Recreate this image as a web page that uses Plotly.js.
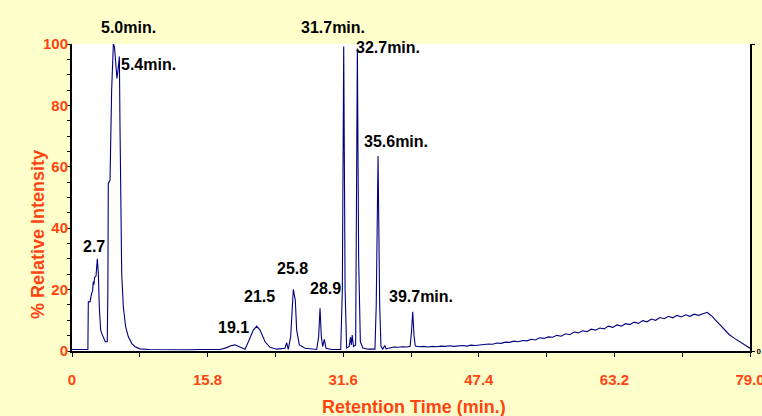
<!DOCTYPE html>
<html>
<head>
<meta charset="utf-8">
<script src="https://cdn.plot.ly/plotly-3.0.1.min.js"></script>
<style>html,body{margin:0;padding:0;background:#FFFFCC;}#chart{width:762px;height:416px;}</style>
</head>
<body>
<div id="chart"></div>
<script>
// Retention time (min) and % relative intensity
const retentionTime = [
  0, 1.0, 1.85, 1.90, 2.10, 2.29, 2.40, 2.48, 2.55, 2.64, 2.80, 2.95, 3.07, 3.18, 3.34, 3.50, 3.65, 3.88, 4.11, 4.18,
  4.23, 4.43, 4.62, 4.82, 4.95, 5.13, 5.24, 5.36, 5.52, 5.59, 5.67, 5.79, 5.98, 6.25, 6.56, 6.95, 7.34, 7.92,
  9.0, 10.5, 12.0, 13.5, 15.0, 16.5, 17.25, 18.03, 18.5, 18.99, 19.58, 20.16, 20.55, 21.13, 21.52, 21.91, 22.49,
  23.07, 23.85, 24.82, 25.01, 25.20, 25.48, 25.79, 26.02, 26.18, 26.49, 27.15, 28.51, 28.74, 28.90, 29.05, 29.21,
  29.40, 29.60, 30.25, 31.31, 31.50, 31.66, 31.82, 32.00, 32.30, 32.45, 32.55, 32.65, 32.80, 33.05, 33.25, 33.40,
  33.60, 33.90, 34.50, 35.30, 35.45, 35.66, 35.85, 36.00, 36.20, 36.45, 36.60, 37.0, 37.5, 38.0, 38.5, 39.0, 39.4,
  39.55, 39.70, 39.85, 40.0,
  40.5, 41.0, 41.5, 42.0, 42.5, 43.0, 43.5, 44.0, 44.5, 45.0, 45.5, 46.0, 46.5, 47.0, 47.5, 48.0, 48.5, 49.0, 49.5,
  50.0, 50.5, 51.0, 51.5, 52.0, 52.5, 53.0, 53.5, 54.0, 54.5, 55.0, 55.5, 56.0, 56.5, 57.0, 57.5, 58.0, 58.5, 59.0,
  59.5, 60.0, 60.5, 61.0, 61.5, 62.0, 62.5, 63.0, 63.5, 64.0, 64.5, 65.0, 65.5, 66.0, 66.5, 67.0, 67.5, 68.0, 68.5,
  69.0, 69.5, 70.0, 70.5, 71.0, 71.5, 72.0, 72.5, 73.0, 73.5, 74.0, 74.3, 74.6, 74.9, 75.5, 76.05, 76.6, 77.2, 77.8,
  78.4, 79.0
];
const intensity = [
  0.5, 0.5, 0.5, 16, 16, 18.8, 19.5, 22.6, 21.5, 24.0, 24.4, 30, 25.3, 14.4, 6.8, 5.5, 4.7, 3.0, 3.0, 20,
  54.6, 55.7, 85, 100, 99, 93.7, 88.8, 91.5, 95.9, 74, 47, 25.3, 14.4, 7.9, 4.7, 2.5, 1.4, 0.7,
  0.5, 0.4, 0.5, 0.4, 0.5, 0.4, 0.5, 1.1, 1.7, 2.0, 1.4, 0.6, 3.0, 6.8, 8.1, 6.8, 3.0,
  1.2, 0.6, 0.9, 2.7, 0.5, 4.7, 20.1, 16.6, 6.8, 2.0, 0.9, 0.5, 4.7, 13.9, 4.7, 1.4,
  3.8, 0.9, 0.5, 0.5, 20, 99.2, 20, 1.0, 1.5, 4.5, 2.0, 5.2, 1.5, 2.0, 98.5, 30,
  3, 1.0, 0.6, 0.6, 15, 63.5, 15, 1.5, 0.6, 1.8, 0.7, 1.0, 1.3, 1.2, 1.4, 1.3, 1.5,
  6, 12.8, 5, 1.6,
  1.4, 1.5, 1.3, 1.5, 1.4, 1.6, 1.5, 1.7, 1.5, 1.7, 1.8, 1.6, 1.9, 1.8, 2.0, 2.1, 2.3, 2.2, 2.6,
  2.5, 2.9, 2.8, 3.2, 3.0, 3.4, 3.3, 3.8, 3.6, 4.3, 4.1, 4.6, 4.5, 5.1, 4.8, 5.6, 5.3, 6.2, 5.9,
  6.6, 6.3, 7.1, 6.8, 7.5, 7.2, 8.1, 7.7, 8.5, 8.1, 8.9, 8.6, 9.4, 9.0, 9.9, 9.5, 10.4, 10.0, 10.9,
  10.5, 11.3, 10.8, 11.6, 11.1, 11.8, 11.3, 12.0, 11.6, 12.2, 12.6, 11.9, 11.3, 10.3, 8.6, 6.8, 5.3, 4.1, 3.0,
  2.0, 0.9
];
const xTickValues = [0, 15.8, 31.6, 47.4, 63.2, 79.0];
const xTickLabels = ['0', '15.8', '31.6', '47.4', '63.2', '79.0'];
const yTickValues = [0, 20, 40, 60, 80, 100];
const yTickLabels = ['0', '20', '40', '60', '80', '100'];
const peakLabels = ['5.0min.', '5.4min.', '31.7min.', '32.7min.', '35.6min.', '2.7', '19.1', '21.5', '25.8', '28.9', '39.7min.'];

// label placement (layout only)
const peakLabelX = [6.53, 8.97, 30.41, 36.82, 37.75, 2.56, 18.76, 21.79, 25.64, 29.48, 40.67];
const peakLabelY = [1.055, 0.932, 1.055, 0.990, 0.681, 0.342, 0.078, 0.179, 0.270, 0.205, 0.176];

const orange = '#FF4411';
const fontFam = 'Liberation Sans, Arial, sans-serif';
const bold = s => '<b>' + s + '</b>';

const traces = [
  {x: retentionTime, y: intensity, type: 'scatter', mode: 'lines',
   line: {color: '#000080', width: 1.1}, hoverinfo: 'x+y', showlegend: false},
  {x: [0], y: [0], yaxis: 'y2', type: 'scatter', mode: 'markers',
   marker: {opacity: 0}, hoverinfo: 'skip', showlegend: false}
];

const annotations = peakLabels.map((t, i) => ({
  text: bold(t), x: peakLabelX[i], xref: 'x', y: peakLabelY[i], yref: 'paper',
  showarrow: false, xanchor: 'center', yanchor: 'middle',
  font: {family: fontFam, size: 16, color: '#000000'}
}));
annotations.push({
  text: bold('% Relative Intensity'), textangle: -90, x: -0.050, xref: 'paper', y: 0.378, yref: 'paper',
  showarrow: false, xanchor: 'center', yanchor: 'middle', font: {family: fontFam, size: 18, color: orange}
});
annotations.push({
  text: bold('Retention Time (min.)'), x: 0.504, xref: 'paper', y: -0.184, yref: 'paper',
  showarrow: false, xanchor: 'center', yanchor: 'middle', font: {family: fontFam, size: 18, color: orange}
});

const layout = {
  width: 762, height: 416,
  margin: {l: 72, r: 12, t: 44, b: 65, pad: 0},
  paper_bgcolor: '#FFFFCC', plot_bgcolor: '#FFFFFF',
  showlegend: false,
  xaxis: {
    range: [0, 79], tickmode: 'array', tickvals: xTickValues, ticktext: xTickLabels.map(bold),
    showgrid: false, zeroline: false, showline: true, linecolor: '#000000', linewidth: 2,
    ticks: 'outside', ticklen: 4, tickwidth: 1, tickcolor: '#000000',
    ticklabelstandoff: 10, ticklabeloverflow: 'allow',
    tickfont: {family: fontFam, size: 15, color: orange},
    minor: {tickvals: [7.9, 23.7, 39.5, 55.3, 71.1], ticks: 'outside', ticklen: 4, tickcolor: '#000000', showgrid: false}
  },
  yaxis: {
    range: [0, 100], tickmode: 'array', tickvals: yTickValues, ticktext: yTickLabels.map(bold),
    showgrid: false, zeroline: false, showline: true, linecolor: '#000000', linewidth: 2,
    ticks: 'outside', ticklen: 4, tickwidth: 1, tickcolor: '#000000',
    ticklabelstandoff: -5,
    tickfont: {family: fontFam, size: 15, color: orange},
    minor: {dtick: 5, ticks: 'outside', ticklen: 3, tickcolor: '#000000', showgrid: false}
  },
  yaxis2: {
    overlaying: 'y', side: 'right', range: [0, 100], tickmode: 'array', tickvals: [0, 100], ticktext: ['<b>0</b>', ''],
    showgrid: false, zeroline: false, showline: true, linecolor: '#000000', linewidth: 2,
    ticks: 'outside', ticklen: 3, tickcolor: '#000000',
    tickfont: {family: fontFam, size: 8, color: '#000000'}
  },
  annotations: annotations
};

Plotly.newPlot('chart', traces, layout, {displayModeBar: false, staticPlot: true});
</script>
</body>
</html>
